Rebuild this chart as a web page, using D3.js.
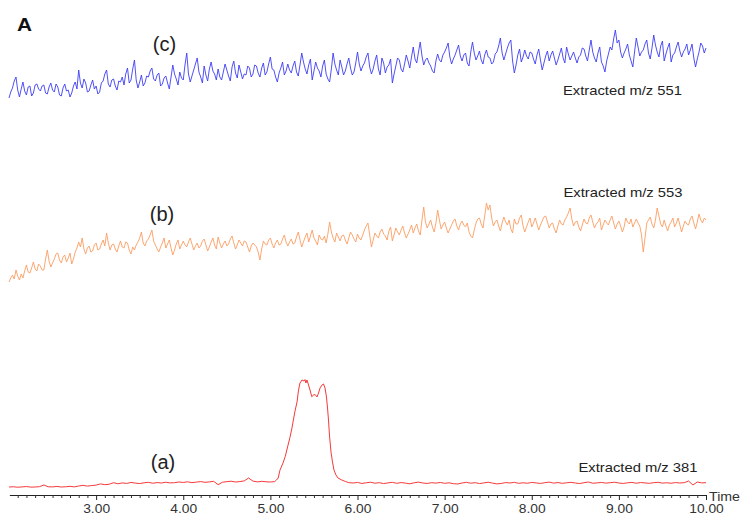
<!DOCTYPE html>
<html>
<head>
<meta charset="utf-8">
<script src="https://cdn.jsdelivr.net/npm/d3@7"></script>
<style>
  html, body { margin: 0; padding: 0; background: #fff; }
  svg { display: block; font-family: "Liberation Sans", Arial, sans-serif; }
</style>
</head>
<body>
<svg id="chart" width="741" height="515"></svg>
<script>
// Retention time grid (min)
const timeStart = 2.0;
const timeEnd = 10.0;
const scanStep = 0.02;
const majorTicks = [3, 4, 5, 6, 7, 8, 9, 10];

// Extracted m/z 551 trace, relative intensity per scan
const mz551 = [
  12,18,22,29,33,20,13,21,28,19,15,23,24,14,17,25,26,21,19,24,
  25,17,16,23,27,20,18,26,23,15,14,22,26,19,20,13,17,24,28,21,
  40,27,22,31,27,18,19,25,30,21,24,16,18,27,29,36,40,26,23,30,
  31,24,20,29,28,33,25,36,42,27,30,41,50,30,22,28,35,24,27,34,
  33,39,42,31,29,35,37,24,26,32,34,27,21,33,45,36,31,25,38,32,
  30,45,57,36,28,34,40,46,52,38,33,27,44,35,29,41,48,39,36,30,
  41,33,30,38,46,40,34,29,43,49,37,32,45,38,31,36,35,44,42,33,
  36,45,44,37,33,42,47,35,38,46,53,41,40,33,28,37,42,48,35,39,
  46,40,37,44,49,38,34,45,57,48,41,36,45,51,30,39,48,42,39,33,
  44,50,36,31,28,41,57,46,40,35,50,43,35,39,46,52,42,35,38,47,
  58,46,39,44,47,53,57,43,36,41,49,55,41,35,52,47,37,43,45,51,
  27,36,44,52,50,41,38,46,55,49,42,53,63,51,47,58,68,54,45,50,
  52,47,44,39,37,49,56,50,48,55,58,62,67,53,46,51,55,60,65,54,
  49,55,57,47,44,58,68,57,50,54,59,50,46,55,60,53,52,46,48,56,
  58,64,72,57,50,56,62,67,70,49,37,45,55,61,48,53,60,54,51,58,
  57,51,46,55,61,50,40,47,54,59,49,55,59,52,45,50,56,62,52,47,
  63,56,50,54,58,52,47,53,55,62,61,54,49,60,70,58,52,48,57,63,
  48,44,38,49,56,63,60,71,80,67,70,58,52,57,61,66,55,49,43,58,
  72,63,54,58,60,66,70,57,51,62,75,65,58,53,64,69,49,56,62,67,
  48,55,57,63,68,59,53,58,61,66,55,60,66,52,43,51,58,67,64,57,
  62
];

// Extracted m/z 553 trace, relative intensity per scan
const mz553 = [
  8,12,15,11,20,14,10,16,12,19,25,18,17,22,28,21,19,26,24,20,
  20,31,40,29,23,27,31,36,37,30,27,33,35,28,32,37,26,31,38,42,
  48,43,52,41,36,42,44,38,39,45,47,40,41,46,50,44,57,47,40,45,
  46,41,38,44,49,43,42,48,47,40,36,43,40,45,48,52,58,47,44,49,
  51,55,60,49,45,41,38,43,47,52,42,46,50,42,35,40,46,50,41,45,
  49,45,43,48,52,46,40,44,47,42,44,49,51,45,39,43,48,52,45,41,
  53,47,42,46,49,44,46,51,54,47,41,45,50,47,44,49,48,43,38,44,
  47,45,43,38,30,41,49,46,45,50,52,46,42,47,50,45,46,51,55,48,
  44,48,51,46,47,53,58,50,43,48,53,57,48,54,60,52,49,45,55,51,
  50,54,47,56,68,58,52,48,57,53,49,54,55,50,46,52,58,55,51,48,
  56,52,50,55,60,64,67,55,43,50,57,54,52,58,61,56,54,50,59,63,
  49,55,62,58,55,60,64,57,52,56,60,65,57,62,66,59,55,70,83,68,
  62,66,70,63,58,67,80,70,61,65,68,62,57,61,65,69,71,64,60,66,
  69,65,63,67,58,54,52,60,67,71,72,66,62,74,87,80,85,72,64,68,
  70,64,59,67,73,68,65,70,61,57,71,66,66,72,75,64,58,63,68,72,
  63,67,72,66,60,65,69,73,74,68,62,66,67,61,57,64,70,66,65,70,
  73,77,82,71,64,68,69,63,59,65,71,67,66,72,75,68,62,66,68,72,
  60,65,70,67,65,70,74,67,61,66,69,64,58,63,72,68,66,71,63,67,
  71,67,64,55,38,52,67,70,73,66,62,70,82,74,66,63,70,64,59,65,
  68,72,63,67,72,65,58,64,69,66,65,71,74,67,61,68,76,70,67,72,
  70
];

// Extracted m/z 381: baseline before the peak (2.00–4.95 min, every 0.05 min)
const mz381Pre = [
  2.7, 2.9, 2.5, 2.8, 3.1, 2.6, 2.7, 3.0, 4.5, 2.9,
  2.8, 3.2, 2.7, 2.9, 3.3, 2.8, 3.6, 4.2, 3.5, 4.0,
  4.4, 5.5, 4.8, 5.2, 6.6, 5.6, 6.4, 5.9, 6.8, 6.2,
  5.8, 6.5, 6.9, 6.1, 6.7, 6.3, 7.0, 6.4, 6.6, 7.2,
  6.8, 7.4, 6.6, 7.1, 7.6, 6.9, 7.3, 7.8, 4.8, 7.0,
  7.5, 7.9, 7.2, 7.6, 8.2, 10.8, 8.0, 7.3, 7.8, 7.4
];
// Peak region (retention time, relative intensity)
const mz381PeakTime = [
  5.00, 5.05, 5.07, 5.09, 5.11, 5.145, 5.17, 5.20, 5.225, 5.248,
  5.266, 5.283, 5.306, 5.323, 5.34, 5.363, 5.386, 5.397, 5.408, 5.42,
  5.438, 5.455, 5.475, 5.495, 5.513, 5.535, 5.553, 5.57, 5.593, 5.61,
  5.627, 5.644, 5.656, 5.667, 5.679, 5.696, 5.713, 5.73, 5.753, 5.776,
  5.82, 5.86, 5.90
];
const mz381PeakValue = [
  7.2, 7.6, 9.0, 10.8, 17.9, 24.3, 30.0, 39.6, 47.4, 55.9,
  64.0, 71.2, 79.3, 90.0, 96.4, 99.1, 98.2, 99.5, 96.4, 99.1,
  94.6, 90.1, 84.1, 85.6, 86.0, 83.8, 87.4, 91.9, 94.6, 95.5,
  91.9, 83.8, 73.9, 63.1, 48.6, 34.2, 25.2, 18.0, 13.5, 10.8,
  9.0, 7.7, 6.6
];
// Baseline after the peak (5.95–10.00 min, every 0.05 min)
const mz381Post = [
  6.3, 6.8, 5.9, 6.5, 7.0, 6.1, 6.6, 5.8, 6.4, 6.9,
  6.0, 6.7, 6.2, 5.6, 6.5, 7.1, 6.3, 5.9, 6.6, 6.2,
  6.8, 6.0, 6.5, 5.7, 5.4, 6.3, 6.9, 6.1, 6.6, 5.8,
  6.4, 7.0, 6.2, 5.5, 5.9, 6.7, 6.3, 6.9, 6.0, 6.5,
  6.1, 6.8, 6.4, 5.9, 6.6, 7.1, 6.2, 6.7, 6.0, 6.5,
  6.9, 6.3, 5.8, 6.6, 7.2, 6.1, 6.4, 6.8, 6.2, 6.6,
  7.0, 6.3, 5.9, 6.5, 6.8, 6.1, 6.7, 6.4, 6.0, 6.6,
  6.9, 6.2, 6.5, 6.1, 6.7, 6.3, 6.6, 8.1, 4.5, 7.2,
  6.4, 6.6
];

const traceLabels = ["Extracted m/z 551", "Extracted m/z 553", "Extracted m/z 381"];
const traceTags = ["(c)", "(b)", "(a)"];

// ---- drawing ----
const svg = d3.select("#chart");

const x = d3.scaleLinear().domain([timeStart, timeEnd]).range([9, 706]);

// each trace gets its own stacked intensity band
const yC = d3.scaleLinear().domain([0, 100]).range([110, 10]);
const yB = d3.scaleLinear().domain([0, 100]).range([290, 190]);
const yA = d3.scaleLinear().domain([0, 100]).range([490, 379]);

const scanTime = i => timeStart + i * scanStep;

const line = (ys) => d3.line().x(d => x(d[0])).y(d => ys(d[1]));

const seriesC = mz551.map((v, i) => [scanTime(i), v]);
const seriesB = mz553.map((v, i) => [scanTime(i), v]);
const seriesA = [
  ...mz381Pre.map((v, i) => [2.0 + i * 0.05, v]),
  ...mz381PeakTime.map((t, i) => [t, mz381PeakValue[i]]),
  ...mz381Post.map((v, i) => [5.95 + i * 0.05, v])
];

svg.append("path").datum(seriesC)
  .attr("fill", "none").attr("stroke", "#3d3df5").attr("stroke-width", 0.9)
  .attr("stroke-linejoin", "round")
  .attr("d", line(yC));

svg.append("path").datum(seriesB)
  .attr("fill", "none").attr("stroke", "#fc9d62").attr("stroke-width", 0.9)
  .attr("stroke-linejoin", "round")
  .attr("d", line(yB));

svg.append("path").datum(seriesA)
  .attr("fill", "none").attr("stroke", "#f53a3a").attr("stroke-width", 1)
  .attr("stroke-linejoin", "round")
  .attr("d", line(yA));

// time axis: minor ticks every 0.1 min, labelled ticks on whole minutes
const axisY = 495;
const minorTicks = d3.range(21, 101).map(k => k / 10).filter(t => !majorTicks.includes(t));

const minorAxis = d3.axisBottom(x).tickValues(minorTicks).tickSize(3).tickFormat("").tickSizeOuter(0);
const majorAxis = d3.axisBottom(x).tickValues(majorTicks).tickSize(5)
  .tickFormat(d3.format(".2f")).tickSizeOuter(0).tickPadding(4);

const gMinor = svg.append("g").attr("transform", `translate(0,${axisY})`).call(minorAxis);
gMinor.select(".domain").attr("d", `M${x(2.01)},0.5H${x(10)}`).attr("stroke", "#222");
gMinor.selectAll(".tick line").attr("stroke", "#333");

const gMajor = svg.append("g").attr("transform", `translate(0,${axisY})`).call(majorAxis);
gMajor.select(".domain").remove();
gMajor.selectAll(".tick line").attr("stroke", "#222");
gMajor.selectAll(".tick text")
  .attr("font-family", "'Liberation Sans', Arial, sans-serif")
  .attr("font-size", 12.8).attr("fill", "#333")
  .attr("transform", "scale(1.08,1)");

svg.append("text").attr("x", 709).attr("y", 501)
  .attr("font-size", 13).attr("fill", "#333")
  .attr("textLength", 31).attr("lengthAdjust", "spacingAndGlyphs").text("Time");

// panel letter
svg.append("text").attr("x", 17).attr("y", 31)
  .attr("font-size", 18).attr("font-weight", "bold").attr("fill", "#111")
  .attr("textLength", 15).attr("lengthAdjust", "spacingAndGlyphs").text("A");

// trace tags and labels
const tagPos = [[164.5, 51], [162, 221], [163, 469]];
traceTags.forEach((t, i) => {
  svg.append("text").attr("x", tagPos[i][0]).attr("y", tagPos[i][1])
    .attr("text-anchor", "middle").attr("font-size", 20).attr("fill", "#222").text(t);
});

const labelPos = [[622.5, 95], [623, 197], [638, 472]];
traceLabels.forEach((t, i) => {
  svg.append("text").attr("x", labelPos[i][0]).attr("y", labelPos[i][1])
    .attr("text-anchor", "middle").attr("font-size", 13.5).attr("fill", "#222")
    .attr("textLength", 119).attr("lengthAdjust", "spacingAndGlyphs").text(t);
});
</script>
</body>
</html>
